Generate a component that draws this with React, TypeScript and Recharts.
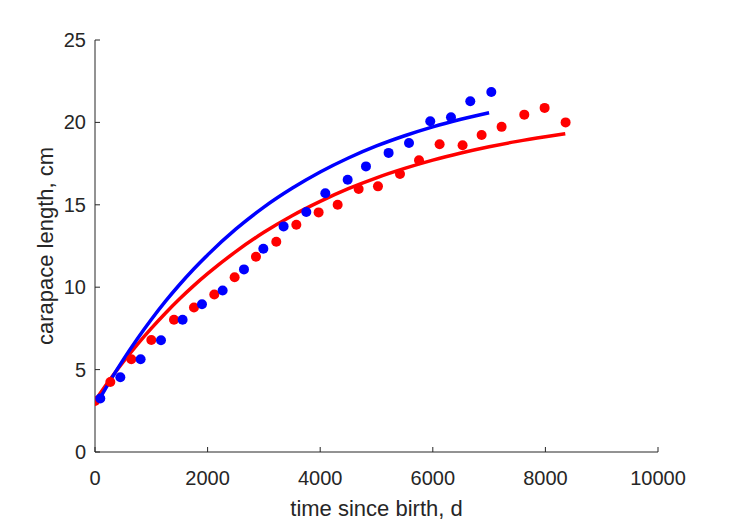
import React from 'react';
import { ComposedChart, Line, Scatter, XAxis, YAxis } from 'recharts';

// measured points (days since birth, carapace length in cm)
const redDays = [0, 272, 645, 1000, 1403, 1758, 2119, 2480, 2859, 3220, 3576, 3972, 4310, 4683, 5026, 5417, 5755, 6121, 6529, 6867, 7222, 7625, 7986, 8359];
const redLength = [3.1, 4.25, 5.63, 6.8, 8.02, 8.77, 9.56, 10.6, 11.85, 12.76, 13.79, 14.54, 15.0, 15.96, 16.12, 16.87, 17.7, 18.67, 18.61, 19.24, 19.73, 20.47, 20.88, 20.0];

const blueDays = [94, 450, 810, 1172, 1556, 1900, 2267, 2646, 2990, 3350, 3753, 4091, 4488, 4813, 5215, 5577, 5955, 6323, 6666, 7039];
const blueLength = [3.25, 4.54, 5.63, 6.78, 8.02, 8.97, 9.8, 11.08, 12.33, 13.69, 14.56, 15.7, 16.52, 17.33, 18.15, 18.75, 20.07, 20.31, 21.28, 21.85];

// fitted growth curves
const blueFitDays = [94, 300, 500, 750, 1000, 1250, 1500, 1750, 2000, 2500, 3000, 3500, 4000, 4500, 5000, 5500, 6000, 6500, 7000];
const blueFitLength = [3.3, 4.5, 5.59, 6.86, 8.04, 9.14, 10.15, 11.09, 11.96, 13.52, 14.86, 16.0, 16.99, 17.84, 18.57, 19.19, 19.73, 20.19, 20.59];

const redFitDays = [0, 250, 500, 750, 1000, 1250, 1500, 1750, 2000, 2500, 3000, 3500, 4000, 4500, 5000, 5500, 6000, 6500, 7000, 7500, 8000, 8353];
const redFitLength = [3.1, 4.32, 5.46, 6.52, 7.5, 8.42, 9.28, 10.08, 10.82, 12.16, 13.33, 14.34, 15.21, 15.98, 16.64, 17.21, 17.71, 18.14, 18.52, 18.85, 19.13, 19.31];

const xTicks = [0, 2000, 4000, 6000, 8000, 10000];
const yTicks = [0, 5, 10, 15, 20, 25];

const toPoints = (xs: number[], ys: number[]) => xs.map((x, i) => ({ x, y: ys[i] }));

const redPts = toPoints(redDays, redLength);
const bluePts = toPoints(blueDays, blueLength);
const redFit = toPoints(redFitDays, redFitLength);
const blueFit = toPoints(blueFitDays, blueFitLength);

const AXIS = '#262626';
const FONT = '"Liberation Sans", Arial, Helvetica, sans-serif';
const PLOT_LEFT = 95;
const PLOT_BOTTOM = 452;

const XTick = (props: any) => {
  const { x, payload } = props;
  return (
    <g>
      <line x1={x} x2={x} y1={PLOT_BOTTOM} y2={PLOT_BOTTOM - 5} stroke={AXIS} strokeWidth={1} />
      <text x={x} y={485} textAnchor="middle" fontSize={20} fill={AXIS} fontFamily={FONT}>
        {payload.value}
      </text>
    </g>
  );
};

const YTick = (props: any) => {
  const { y, payload } = props;
  return (
    <g>
      <line x1={PLOT_LEFT} x2={PLOT_LEFT + 5} y1={y} y2={y} stroke={AXIS} strokeWidth={1} />
      <text x={86} y={y + 7} textAnchor="end" fontSize={20} fill={AXIS} fontFamily={FONT}>
        {payload.value}
      </text>
    </g>
  );
};

const dot = (color: string) => (props: any) => (
  <circle cx={props.cx} cy={props.cy} r={5} fill={color} />
);

export default function App() {
  return (
    <div style={{ position: 'absolute', left: 0, top: 0, background: '#fff' }}>
      <ComposedChart width={729} height={521} margin={{ top: 40, right: 71, bottom: 0, left: 0 }}>
        <XAxis
          type="number"
          dataKey="x"
          domain={[0, 10000]}
          ticks={xTicks}
          height={69}
          stroke={AXIS}
          tickLine={false}
          tick={<XTick />}
          interval={0}
          allowDataOverflow
        />
        <YAxis
          type="number"
          dataKey="y"
          domain={[0, 25]}
          ticks={yTicks}
          width={95}
          stroke={AXIS}
          tickLine={false}
          tick={<YTick />}
          interval={0}
          allowDataOverflow
        />
        <Line data={redFit} dataKey="y" type="monotone" stroke="#ff0000" strokeWidth={3.5} dot={false} isAnimationActive={false} />
        <Line data={blueFit} dataKey="y" type="monotone" stroke="#0000ff" strokeWidth={3.5} dot={false} isAnimationActive={false} />
        <Scatter data={redPts} dataKey="y" fill="#ff0000" shape={dot('#ff0000')} isAnimationActive={false} />
        <Scatter data={bluePts} dataKey="y" fill="#0000ff" shape={dot('#0000ff')} isAnimationActive={false} />
        <text x={376.5} y={516} textAnchor="middle" fontSize={22} fill={AXIS} fontFamily={FONT}>
          time since birth, d
        </text>
        <text
          transform="translate(53,246) rotate(-90)"
          textAnchor="middle"
          fontSize={22}
          fill={AXIS}
          fontFamily={FONT}
        >
          carapace length, cm
        </text>
      </ComposedChart>
    </div>
  );
}
